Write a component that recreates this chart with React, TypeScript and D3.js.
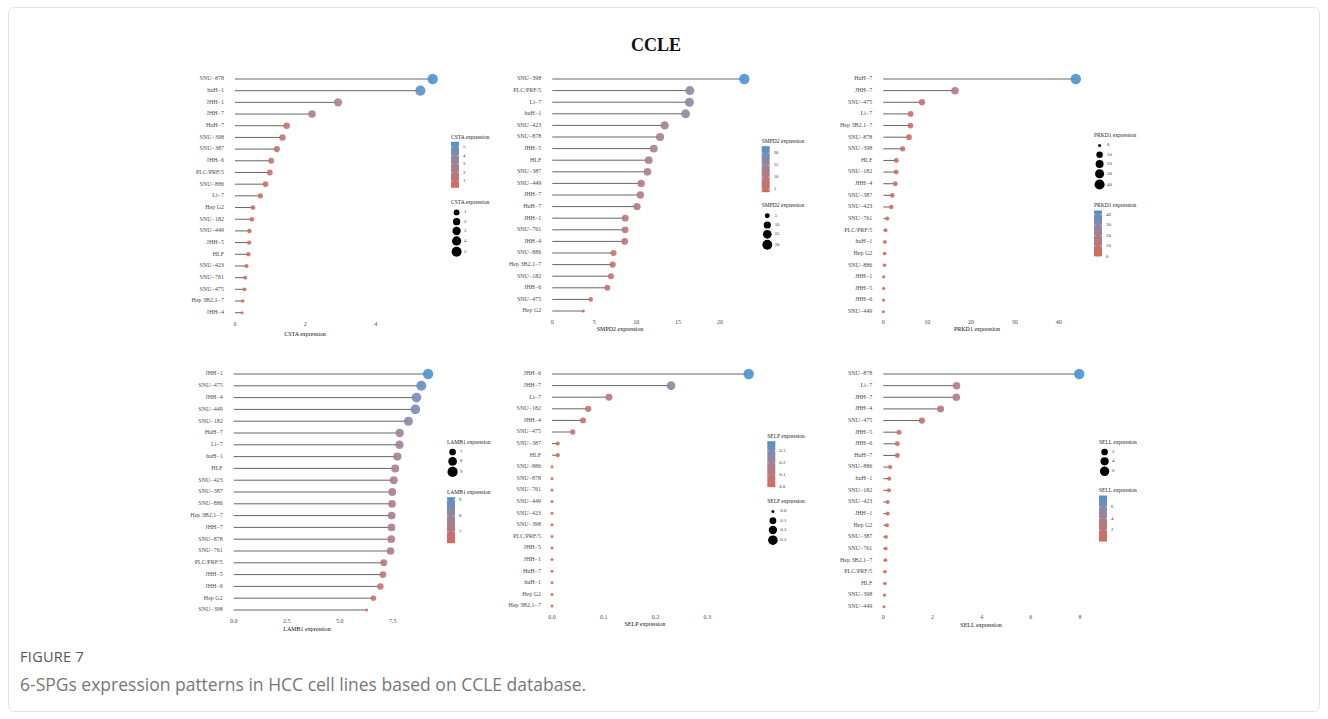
import React from 'react';
import * as d3 from 'd3';

// ---- data ----
const cstaCells = ['SNU-878', 'huH-1', 'JHH-1', 'JHH-7', 'HuH-7', 'SNU-398', 'SNU-387', 'JHH-6', 'PLC/PRF/5', 'SNU-886', 'Li-7', 'Hep G2', 'SNU-182', 'SNU-449', 'JHH-5', 'HLF', 'SNU-423', 'SNU-761', 'SNU-475', 'Hep 3B2.1-7', 'JHH-4'];
const cstaValues = [5.62, 5.27, 2.93, 2.19, 1.47, 1.35, 1.19, 1.03, 0.99, 0.87, 0.72, 0.51, 0.48, 0.41, 0.40, 0.38, 0.33, 0.29, 0.27, 0.22, 0.20];

const smpd2Cells = ['SNU-398', 'PLC/PRF/5', 'Li-7', 'huH-1', 'SNU-423', 'SNU-878', 'JHH-5', 'HLF', 'SNU-387', 'SNU-449', 'JHH-7', 'HuH-7', 'JHH-1', 'SNU-761', 'JHH-4', 'SNU-886', 'Hep 3B2.1-7', 'SNU-182', 'JHH-6', 'SNU-475', 'Hep G2'];
const smpd2Values = [22.9, 16.4, 16.35, 15.9, 13.4, 12.85, 12.1, 11.5, 11.35, 10.6, 10.5, 10.1, 8.7, 8.68, 8.64, 7.3, 7.2, 7.0, 6.57, 4.58, 3.7];

const prkd1Cells = ['HuH-7', 'JHH-7', 'SNU-475', 'Li-7', 'Hep 3B2.1-7', 'SNU-878', 'SNU-398', 'HLF', 'SNU-182', 'JHH-4', 'SNU-387', 'SNU-423', 'SNU-761', 'PLC/PRF/5', 'huH-1', 'Hep G2', 'SNU-886', 'JHH-1', 'JHH-5', 'JHH-6', 'SNU-449'];
const prkd1Values = [43.9, 16.35, 8.82, 6.24, 6.2, 5.86, 4.42, 2.97, 2.95, 2.74, 2.05, 1.82, 0.91, 0.53, 0.38, 0.3, 0.28, 0.1, 0.08, 0.05, 0.02];

const lamb1Cells = ['JHH-1', 'SNU-475', 'JHH-4', 'SNU-449', 'SNU-182', 'HuH-7', 'Li-7', 'huH-1', 'HLF', 'SNU-423', 'SNU-387', 'SNU-886', 'Hep 3B2.1-7', 'JHH-7', 'SNU-878', 'SNU-761', 'PLC/PRF/5', 'JHH-5', 'JHH-6', 'Hep G2', 'SNU-398'];
const lamb1Values = [9.17, 8.85, 8.62, 8.57, 8.24, 7.83, 7.82, 7.72, 7.62, 7.55, 7.48, 7.47, 7.45, 7.44, 7.43, 7.4, 7.08, 7.04, 6.92, 6.59, 6.27];

const selpCells = ['JHH-6', 'JHH-7', 'Li-7', 'SNU-182', 'JHH-4', 'SNU-475', 'SNU-387', 'HLF', 'SNU-886', 'SNU-878', 'SNU-761', 'SNU-449', 'SNU-423', 'SNU-398', 'PLC/PRF/5', 'JHH-5', 'JHH-1', 'HuH-7', 'huH-1', 'Hep G2', 'Hep 3B2.1-7'];
const selpValues = [0.38, 0.23, 0.11, 0.07, 0.06, 0.04, 0.011, 0.011, 0, 0, 0, 0, 0, 0, 0, 0, 0, 0, 0, 0, 0];

const sellCells = ['SNU-878', 'Li-7', 'JHH-7', 'JHH-4', 'SNU-475', 'JHH-5', 'JHH-6', 'HuH-7', 'SNU-886', 'huH-1', 'SNU-182', 'SNU-423', 'JHH-1', 'Hep G2', 'SNU-387', 'SNU-761', 'Hep 3B2.1-7', 'PLC/PRF/5', 'HLF', 'SNU-398', 'SNU-449'];
const sellValues = [7.97, 2.98, 2.97, 2.33, 1.57, 0.64, 0.57, 0.57, 0.28, 0.24, 0.23, 0.18, 0.18, 0.15, 0.11, 0.10, 0.09, 0.07, 0.07, 0.05, 0.03];

// axis ticks and legend breaks
const cstaTicks = [0, 2, 4];
const smpd2Ticks = [0, 5, 10, 15, 20];
const prkd1Ticks = [0, 10, 20, 30, 40];
const lamb1Ticks = [0, 2.5, 5, 7.5];
const selpTicks = [0, 0.1, 0.2, 0.3];
const sellTicks = [0, 2, 4, 6, 8];

const cstaBreaks = [1, 2, 3, 4, 5];
const smpd2Breaks = [5, 10, 15, 20];
const prkd1Breaks = [0, 10, 20, 30, 40];
const lamb1Breaks = [7, 8, 9];
const selpBreaks = [0, 0.1, 0.2, 0.3];
const sellBreaks = [2, 4, 6];

const LOW = '#d4695c';
const HIGH = '#4a92ce';
const SERIF = '"Liberation Serif", "DejaVu Serif", serif';

const panels = [
  { gene: 'CSTA', cells: cstaCells, values: cstaValues, ticks: cstaTicks, breaks: cstaBreaks, fmt: d3.format('d'),
    x0: 235, xRef: 375.7, refVal: 4, yTop: 79, yBot: 312.7, tickY: 325, titleY: 335, titleX: 305,
    lx: 451, order: ['color', 'size'], t1: 137.3, t2: 202.7 },
  { gene: 'SMPD2', cells: smpd2Cells, values: smpd2Values, ticks: smpd2Ticks, breaks: smpd2Breaks, fmt: d3.format('d'),
    x0: 552.3, xRef: 720, refVal: 20, yTop: 79, yBot: 311, tickY: 322.5, titleY: 330, titleX: 620,
    lx: 761.7, order: ['color', 'size'], t1: 141.7, t2: 206 },
  { gene: 'PRKD1', cells: prkd1Cells, values: prkd1Values, ticks: prkd1Ticks, breaks: prkd1Breaks, fmt: d3.format('d'),
    x0: 883.3, xRef: 1058.7, refVal: 40, yTop: 79, yBot: 311.7, tickY: 323, titleY: 330, titleX: 977,
    lx: 1094, order: ['size', 'color'], t1: 135.7, t2: 206 },
  { gene: 'LAMB1', cells: lamb1Cells, values: lamb1Values, ticks: lamb1Ticks, breaks: lamb1Breaks, fmt: d3.format('.1f'), bfmt: d3.format('d'),
    x0: 233.7, xRef: 392.7, refVal: 7.5, yTop: 374, yBot: 610, tickY: 622, titleY: 629.5, titleX: 307,
    lx: 447, order: ['size', 'color'], t1: 442.3, t2: 492.7 },
  { gene: 'SELP', cells: selpCells, values: selpValues, ticks: selpTicks, breaks: selpBreaks, fmt: d3.format('.1f'),
    x0: 552, xRef: 707.3, refVal: 0.3, yTop: 374, yBot: 606, tickY: 617.5, titleY: 625, titleX: 645,
    lx: 767.3, order: ['color', 'size'], t1: 436.7, t2: 501.7 },
  { gene: 'SELL', cells: sellCells, values: sellValues, ticks: sellTicks, breaks: sellBreaks, fmt: d3.format('d'),
    x0: 883.3, xRef: 1080, refVal: 8, yTop: 374, yBot: 606.7, tickY: 618, titleY: 626, titleX: 981,
    lx: 1099, order: ['size', 'color'], t1: 442.3, t2: 491 },
];

const dash = (s: string) => s.replace(/-/g, '\u2212');

function Panel({ p, idx }: { p: any; idx: number }) {
  const lo = d3.min(p.values as number[])!;
  const hi = d3.max(p.values as number[])!;
  const x = d3.scaleLinear().domain([0, p.refVal]).range([p.x0, p.xRef]);
  const y = d3.scalePoint<string>().domain(p.cells).range([p.yTop, p.yBot]);
  const color = d3.scaleLinear<string>().domain([lo, hi]).range([LOW, HIGH]).interpolate(d3.interpolateLab);
  const size = (v: number) => 1.5 + 3.7 * Math.sqrt(Math.max(0, (v - lo) / (hi - lo)));
  const bfmt = p.bfmt || p.fmt;
  const gradId = `grad${idx}`;
  const barH = 46;

  const colorLegend = (ty: number) => {
    const top = ty + 4.5;
    const cy = d3.scaleLinear().domain([lo, hi]).range([top + barH, top]);
    const stops = d3.range(0, 1.0001, 0.1);
    return (
      <g key="c">
        <defs>
          <linearGradient id={gradId} x1="0" y1="1" x2="0" y2="0">
            {stops.map((s) => (
              <stop key={s} offset={s} stopColor={color(lo + s * (hi - lo))} />
            ))}
          </linearGradient>
        </defs>
        <text x={p.lx} y={ty} dominantBaseline="middle" fontSize={5.5} fill="#222">{`${p.gene} expression`}</text>
        <rect x={p.lx} y={top} width={8} height={barH} fill={`url(#${gradId})`} />
        {p.breaks.map((b: number) => (
          <g key={b}>
            <line x1={p.lx} x2={p.lx + 1.6} y1={cy(b)} y2={cy(b)} stroke="#fff" strokeWidth={0.5} />
            <line x1={p.lx + 6.4} x2={p.lx + 8} y1={cy(b)} y2={cy(b)} stroke="#fff" strokeWidth={0.5} />
            <text x={p.lx + 12} y={cy(b)} dominantBaseline="middle" fontSize={4.8} fill="#333">{bfmt(b)}</text>
          </g>
        ))}
      </g>
    );
  };

  const sizeLegend = (ty: number) => {
    let yy = ty + 9.7;
    const items = p.breaks.map((b: number, i: number) => {
      if (i > 0) {
        const prev = size(p.breaks[i - 1]);
        yy += Math.max(9.3, prev + size(b) + 1.2);
      }
      return { b, y: yy, r: size(b) };
    });
    return (
      <g key="s">
        <text x={p.lx} y={ty} dominantBaseline="middle" fontSize={5.5} fill="#222">{`${p.gene} expression`}</text>
        {items.map((it: any) => (
          <g key={it.b}>
            <circle cx={p.lx + 5.6} cy={it.y} r={it.r} fill="#000" />
            <text x={p.lx + 13} y={it.y} dominantBaseline="middle" fontSize={4.8} fill="#333">{bfmt(it.b)}</text>
          </g>
        ))}
      </g>
    );
  };

  return (
    <g fontFamily={SERIF}>
      {p.cells.map((c: string, i: number) => (
        <g key={c}>
          <text x={p.x0 - 11} y={y(c)} textAnchor="end" dominantBaseline="middle" fontSize={6} fill="#4d4d4d">{dash(c)}</text>
          <line x1={x(0)} x2={x(p.values[i])} y1={y(c)} y2={y(c)} stroke="#555" strokeWidth={0.9} />
        </g>
      ))}
      {p.cells.map((c: string, i: number) => (
        <circle key={c} cx={x(p.values[i])} cy={y(c)} r={size(p.values[i])} fill={color(p.values[i])} fillOpacity={0.9} />
      ))}
      {p.ticks.map((t: number) => (
        <text key={t} x={x(t)} y={p.tickY} textAnchor="middle" dominantBaseline="middle" fontSize={6} fill="#4d4d4d">{p.fmt(t)}</text>
      ))}
      <text x={p.titleX} y={p.titleY} textAnchor="middle" dominantBaseline="middle" fontSize={6} fill="#111">{`${p.gene} expression`}</text>
      {p.order.map((o: string, i: number) => {
        const ty = i === 0 ? p.t1 : p.t2;
        return o === 'color' ? colorLegend(ty) : sizeLegend(ty);
      })}
    </g>
  );
}

export default function App() {
  return (
    <svg width={1328} height={719} style={{ position: 'absolute', left: 0, top: 0, background: '#fff' }}>
      <rect x={8.5} y={7.5} width={1311} height={704} rx={6} fill="#fff" stroke="#e3e3e3" />
      <text x={656} y={51} textAnchor="middle" fontFamily={SERIF} fontWeight="bold" fontSize={18} fill="#111">CCLE</text>
      {panels.map((p, i) => (
        <Panel key={p.gene} p={p} idx={i} />
      ))}
      <text x={20} y={662} fontFamily='"Open Sans", sans-serif' fontSize={14.5} fill="#555" letterSpacing={0.3}>FIGURE 7</text>
      <text x={20} y={691} fontFamily='"Open Sans", sans-serif' fontSize={17.5} fill="#777">6-SPGs expression patterns in HCC cell lines based on CCLE database.</text>
    </svg>
  );
}
